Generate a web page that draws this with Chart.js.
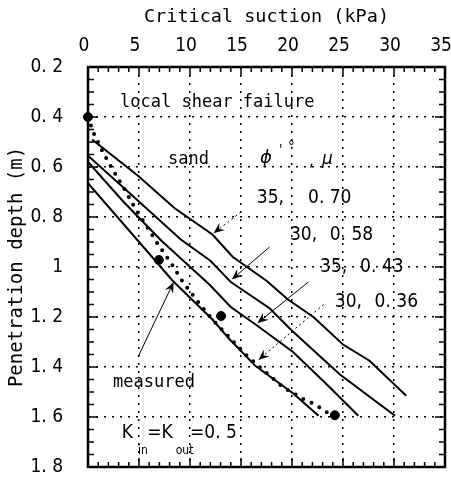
<!DOCTYPE html>
<html>
<head>
<meta charset="utf-8">
<script src="https://cdn.jsdelivr.net/npm/chart.js@4.4.1/dist/chart.umd.min.js"></script>
<style>
  html, body { margin: 0; padding: 0; background: #fff; }
  #wrap { width: 451px; height: 483px; }
</style>
</head>
<body>
<div id="wrap"><canvas id="chart" width="451" height="483"></canvas></div>
<script>
'use strict';

// ── Axis ticks ────────────────────────────────────────────────
const suctionTicks    = [0, 5, 10, 15, 20, 25, 30, 35];
const depthTicks      = [0.2, 0.4, 0.6, 0.8, 1.0, 1.2, 1.4, 1.6, 1.8];
const depthTickLabels = ['0. 2', '0. 4', '0. 6', '0. 8', '1', '1. 2', '1. 4', '1. 6', '1. 8'];

// ── Predicted curves (phi' = deg, mu) ─────────────────────────
const suction_35_070 = [0.4, 4.9, 8.5, 12.2, 14.2, 17.5, 19.6, 22.1, 25.0, 27.6, 31.2];
const depth_35_070   = [0.49, 0.635, 0.765, 0.87, 0.96, 1.055, 1.13, 1.2, 1.31, 1.375, 1.515];

const suction_30_058 = [0.0, 4.5, 9.1, 12.0, 14.0, 17.8, 20.0, 24.7, 30.1];
const depth_30_058   = [0.555, 0.72, 0.89, 0.975, 1.06, 1.165, 1.255, 1.43, 1.595];

const suction_35_043 = [0.0, 3.5, 7.2, 11.9, 14.0, 16.6, 20.1, 23.3, 26.5];
const depth_35_043   = [0.58, 0.74, 0.895, 1.07, 1.16, 1.235, 1.34, 1.465, 1.595];

const suction_30_036 = [0.0, 4.9, 8.3, 12.2, 13.9, 16.4, 20.1, 22.6];
const depth_30_036   = [0.665, 0.895, 1.055, 1.21, 1.29, 1.395, 1.505, 1.595];

// ── Measured ──────────────────────────────────────────────────
const measuredSuction = [0, 0.5, 1.5, 2.5, 3.6, 4.6, 5.8, 6.9, 8.2, 9.3, 10.8, 12.2, 13.9, 15.6, 17.4, 19.1, 20.1, 21.1, 22.0, 22.8, 23.5, 24.1];
const measuredDepth   = [0.4, 0.46, 0.544, 0.616, 0.69, 0.764, 0.84, 0.912, 0.988, 1.06, 1.14, 1.21, 1.284, 1.356, 1.42, 1.48, 1.504, 1.528, 1.544, 1.564, 1.584, 1.6];

const testSuction = [0, 6.95, 13.05, 24.2];
const testDepth   = [0.4, 0.972, 1.196, 1.593];

// ── Fonts ─────────────────────────────────────────────────────
const NARROW = "'Liberation Sans Narrow', 'DejaVu Sans Condensed', 'Liberation Sans', sans-serif";
const MONO   = "'DejaVu Sans Mono', 'Liberation Mono', monospace";

// ── Annotations (data units: kPa, m) ──────────────────────────
const notes = [
  { text: 'local shear failure', x: 3.14,  y: 0.344, font: `17px ${MONO}` },
  { text: 'sand',                x: 7.84,  y: 0.572, font: `17px ${MONO}` },
  { text: 'ϕ',                   x: 16.86, y: 0.566, font: "italic 18px 'DejaVu Sans'" },
  { text: "'",                   x: 18.73, y: 0.534, font: `14px ${NARROW}` },
  { text: '°',                   x: 19.6,  y: 0.526, font: `15px ${NARROW}` },
  { text: ',',                   x: 21.67, y: 0.578, font: `17px ${NARROW}` },
  { text: 'μ',                   x: 22.94, y: 0.572, font: "italic 17px 'DejaVu Sans'" },
  { text: '35,',   x: 16.55, y: 0.724, font: `19px ${NARROW}` },
  { text: '0. 70', x: 21.57, y: 0.724, font: `19px ${NARROW}` },
  { text: '30,',   x: 19.8,  y: 0.872, font: `19px ${NARROW}` },
  { text: '0. 58', x: 23.7,  y: 0.872, font: `19px ${NARROW}` },
  { text: '35,',   x: 22.75, y: 1.0,   font: `19px ${NARROW}` },
  { text: '0. 43', x: 26.67, y: 1.0,   font: `19px ${NARROW}` },
  { text: '30,',   x: 24.2,  y: 1.139, font: `19px ${NARROW}` },
  { text: '0. 36', x: 28.1,  y: 1.139, font: `19px ${NARROW}` },
  { text: 'measured', x: 2.45, y: 1.464, font: `17px ${MONO}` },
  { text: 'K',     x: 3.3,  y: 1.666, font: `19px ${NARROW}` },
  { text: 'in',    x: 4.9,  y: 1.734, font: `12px ${NARROW}` },
  { text: '=K',    x: 5.8,  y: 1.666, font: `19px ${NARROW}` },
  { text: 'out',   x: 8.6,  y: 1.734, font: `12px ${NARROW}` },
  { text: '=0. 5', x: 10.0, y: 1.666, font: `19px ${NARROW}` },
];

const arrows = [
  { from: [15.0, 0.78], to: [12.3, 0.865], dotted: true  },
  { from: [17.8, 0.92], to: [14.1, 1.05],  dotted: false },
  { from: [21.6, 1.06], to: [16.6, 1.225], dotted: false },
  { from: [23.1, 1.15], to: [16.7, 1.372], dotted: true  },
  { from: [4.9,  1.36], to: [8.4,  1.06],  dotted: false },
];

// ── Helpers ───────────────────────────────────────────────────
const toPts = (xs, ys) => xs.map((x, i) => ({ x, y: ys[i] }));

const solidCurve = (xs, ys) => ({
  data: toPts(xs, ys),
  showLine: true,
  borderColor: '#000',
  borderWidth: 2,
  pointRadius: 0,
  tension: 0,
  fill: false,
});

function drawArrow(ctx, x1, y1, x2, y2, dotted) {
  const ang = Math.atan2(y2 - y1, x2 - x1);
  const c = Math.cos(ang), s = Math.sin(ang);
  const L = 11, W = 4.5, N = 7;
  ctx.save();
  ctx.strokeStyle = '#000';
  ctx.fillStyle   = '#000';
  ctx.lineWidth   = 1;
  ctx.setLineDash(dotted ? [2, 3] : []);
  ctx.beginPath();
  ctx.moveTo(x1, y1);
  ctx.lineTo(x2 - c * N, y2 - s * N);
  ctx.stroke();
  ctx.setLineDash([]);
  ctx.beginPath();
  ctx.moveTo(x2, y2);
  ctx.lineTo(x2 - c * L - s * W, y2 - s * L + c * W);
  ctx.lineTo(x2 - c * N, y2 - s * N);
  ctx.lineTo(x2 - c * L + s * W, y2 - s * L - c * W);
  ctx.closePath();
  ctx.fill();
  ctx.restore();
}

// ── Frame, inward ticks and annotations ───────────────────────
const framePlugin = {
  id: 'frame',
  afterDatasetsDraw(chart) {
    const { ctx, chartArea: a, scales: { x, y } } = chart;
    ctx.save();
    ctx.strokeStyle = '#000';
    ctx.lineWidth = 1.5;
    ctx.beginPath();
    for (let v = 0; v <= 35; v += 1) {
      const px = x.getPixelForValue(v);
      const len = v % 5 === 0 ? 9 : 5;
      ctx.moveTo(px, a.top);    ctx.lineTo(px, a.top + len);
      ctx.moveTo(px, a.bottom); ctx.lineTo(px, a.bottom - len);
    }
    for (let k = 0; k <= 32; k++) {
      const py = y.getPixelForValue(0.2 + k * 0.05);
      const len = k % 4 === 0 ? 10 : 6;
      ctx.moveTo(a.left, py);  ctx.lineTo(a.left + len, py);
      ctx.moveTo(a.right, py); ctx.lineTo(a.right - len, py);
    }
    ctx.stroke();
    ctx.lineWidth = 2.5;
    ctx.strokeRect(a.left, a.top, a.right - a.left, a.bottom - a.top);

    arrows.forEach(ar => drawArrow(ctx,
      x.getPixelForValue(ar.from[0]), y.getPixelForValue(ar.from[1]),
      x.getPixelForValue(ar.to[0]),   y.getPixelForValue(ar.to[1]), ar.dotted));

    ctx.fillStyle = '#000';
    ctx.textAlign = 'left';
    ctx.textBaseline = 'middle';
    notes.forEach(n => {
      ctx.font = n.font;
      ctx.fillText(n.text, x.getPixelForValue(n.x), y.getPixelForValue(n.y));
    });
    ctx.restore();
  }
};

// ── Chart ─────────────────────────────────────────────────────
new Chart(document.getElementById('chart'), {
  type: 'scatter',
  data: {
    datasets: [
      solidCurve(suction_35_070, depth_35_070),
      solidCurve(suction_30_058, depth_30_058),
      solidCurve(suction_35_043, depth_35_043),
      solidCurve(suction_30_036, depth_30_036),
      {
        data: toPts(measuredSuction, measuredDepth),
        showLine: true,
        borderColor: '#000',
        borderWidth: 4,
        borderDash: [0, 9],
        borderCapStyle: 'round',
        pointRadius: 0,
        tension: 0,
        fill: false,
      },
      {
        data: toPts(testSuction, testDepth),
        showLine: false,
        pointRadius: 4.5,
        pointBackgroundColor: '#000',
        pointBorderColor: '#000',
        clip: false,
      },
    ]
  },
  options: {
    responsive: false,
    animation: false,
    events: [],
    layout: { padding: { left: 0, top: 0, right: 6, bottom: 16 } },
    plugins: { legend: { display: false }, tooltip: { enabled: false } },
    scales: {
      x: {
        type: 'linear', position: 'top', min: 0, max: 35,
        afterBuildTicks: s => { s.ticks = suctionTicks.map(v => ({ value: v })); },
        afterFit: s => { s.height = 67; s.paddingLeft = 0; s.paddingRight = 0; },
        ticks: { color: '#000', font: { family: NARROW, size: 19 }, padding: 10, labelOffset: -4, maxRotation: 0, callback: v => String(v) },
        grid: { color: '#000', lineWidth: 1.5, drawTicks: false },
        border: { display: false, dash: [2, 6] },
        title: {
          display: true, text: 'Critical suction (kPa)', color: '#000',
          font: { family: MONO, size: 18.5 }, padding: { top: 6, bottom: 0 }
        }
      },
      y: {
        type: 'linear', position: 'left', reverse: true, min: 0.2, max: 1.8,
        afterBuildTicks: s => { s.ticks = depthTicks.map(v => ({ value: v })); },
        afterFit: s => { s.width = 88; s.paddingTop = 0; s.paddingBottom = 0; },
        ticks: { color: '#000', font: { family: NARROW, size: 19 }, padding: 25, callback: (v, i) => depthTickLabels[i] },
        grid: { color: '#000', lineWidth: 1.5, drawTicks: false },
        border: { display: false, dash: [2, 6] },
        title: {
          display: true, text: 'Penetration depth (m)', color: '#000',
          font: { family: MONO, size: 19 }, padding: { top: 6, bottom: 0 }
        }
      }
    }
  },
  plugins: [framePlugin]
});
</script>
</body>
</html>
